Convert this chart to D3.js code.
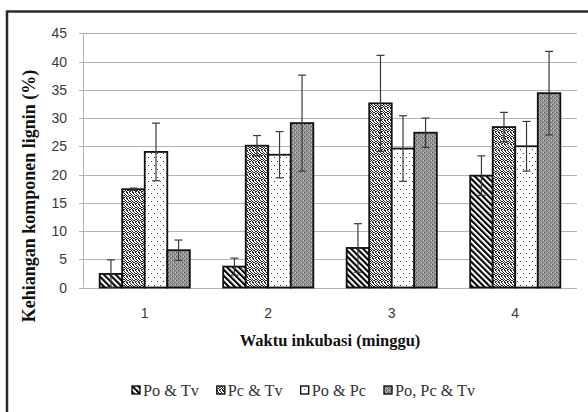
<!DOCTYPE html>
<html><head><meta charset="utf-8">
<script src="https://cdn.jsdelivr.net/npm/d3@7"></script>
<style>body{margin:0;background:#fff}svg{display:block}</style>
</head><body>
<script>
// ---- data ----
const categories = ["1", "2", "3", "4"];
const seriesNames = ["Po & Tv", "Pc & Tv", "Po & Pc", "Po, Pc & Tv"];
const poTv     = [2.4, 3.7, 7.0, 19.8];
const poTvErr  = [2.5, 1.5, 4.3, 3.5];
const pcTv     = [17.4, 25.1, 32.6, 28.4];
const pcTvErr  = [0.2, 1.8, 8.5, 2.6];
const poPc     = [24.0, 23.5, 24.6, 25.0];
const poPcErr  = [5.1, 4.1, 5.8, 4.4];
const poPcTv   = [6.6, 29.1, 27.4, 34.4];
const poPcTvErr= [1.8, 8.5, 2.6, 7.4];
const yTicks = [0, 5, 10, 15, 20, 25, 30, 35, 40, 45];
const yTitle = "Kehiangan komponen lignin (%)";
const xTitle = "Waktu inkubasi (minggu)";

const seriesValues = [poTv, pcTv, poPc, poPcTv];
const seriesErrors = [poTvErr, pcTvErr, poPcErr, poPcTvErr];
const patternIds = ["pStripe", "pConfetti", "pDots", "pGray"];

const W = 588, H = 412;
const svg = d3.select("body").append("svg").attr("width", W).attr("height", H);
const defs = svg.append("defs");

// stripe pattern
const ps = defs.append("pattern").attr("id", "pStripe").attr("patternUnits", "userSpaceOnUse")
  .attr("width", 4.2).attr("height", 4.2).attr("patternTransform", "rotate(-45)");
ps.append("rect").attr("width", 4.2).attr("height", 4.2).attr("fill", "#fff");
ps.append("rect").attr("width", 2.1).attr("height", 4.2).attr("fill", "#000");

// confetti pattern (Pc & Tv)
const pc = defs.append("pattern").attr("id", "pConfetti").attr("patternUnits", "userSpaceOnUse")
  .attr("width", 6).attr("height", 6);
pc.append("rect").attr("width", 6).attr("height", 6).attr("fill", "#fff");
[[0,0],[1,0],[3,0],[4,1],[1,1],[2,2],[5,2],[0,3],[3,3],[4,3],[1,4],[2,4],[5,4],[0,5],[3,5],[4,5]].forEach(([x,y]) =>
  pc.append("rect").attr("x", x).attr("y", y).attr("width", 1).attr("height", 1).attr("fill", "#222"));

// sparse dots (Po & Pc)
const pd = defs.append("pattern").attr("id", "pDots").attr("patternUnits", "userSpaceOnUse")
  .attr("width", 6).attr("height", 8);
pd.append("rect").attr("width", 6).attr("height", 8).attr("fill", "#fff");
[[1,1],[4,5]].forEach(([x,y]) =>
  pd.append("rect").attr("x", x).attr("y", y).attr("width", 1).attr("height", 1).attr("fill", "#444"));

// gray texture (Po, Pc & Tv)
const pg = defs.append("pattern").attr("id", "pGray").attr("patternUnits", "userSpaceOnUse")
  .attr("width", 4).attr("height", 4);
pg.append("rect").attr("width", 4).attr("height", 4).attr("fill", "#959595");
[[0,0],[2,2],[3,0],[1,2]].forEach(([x,y],i) =>
  pg.append("rect").attr("x", x).attr("y", y).attr("width", 1).attr("height", 1).attr("fill", i < 2 ? "#555" : "#c4c4c4"));

// frame
svg.append("rect").attr("x", 7).attr("y", 11.5).attr("width", 620).attr("height", 420)
  .attr("fill", "none").attr("stroke", "#2b2b2b").attr("stroke-width", 2.5);

// scales
const plotL = 83, plotR = 577, plotT = 33.3, plotB = 287.5;
const x = d3.scaleBand().domain(categories).range([plotL, plotR]).paddingInner(0.27).paddingOuter(0.135);
const xs = d3.scaleBand().domain(seriesNames).range([0, x.bandwidth()]).padding(0);
const y = d3.scaleLinear().domain([0, 45]).range([plotB, plotT]);

// gridlines
svg.append("g").selectAll("line").data(yTicks).join("line")
  .attr("x1", plotL - 4).attr("x2", plotR)
  .attr("y1", d => Math.round(y(d)) + 0.5).attr("y2", d => Math.round(y(d)) + 0.5)
  .attr("stroke", "#b4b4b4").attr("stroke-width", 1.2);
// y axis line
svg.append("line").attr("x1", plotL + 0.5).attr("x2", plotL + 0.5)
  .attr("y1", y(45)).attr("y2", y(0)).attr("stroke", "#b4b4b4").attr("stroke-width", 1);

// y tick labels
svg.append("g").selectAll("text").data(yTicks).join("text")
  .attr("x", 67).attr("y", d => y(d)).attr("dy", "0.36em")
  .attr("text-anchor", "end").attr("font-family", "Liberation Sans, Arial, sans-serif")
  .attr("font-size", 14).attr("fill", "#3a3a3a").text(d => d);

// bars
const rows = [];
seriesNames.forEach((s, si) => categories.forEach((c, ci) =>
  rows.push({ s, si, c, v: seriesValues[si][ci], e: seriesErrors[si][ci] })));

svg.append("g").selectAll("rect").data(rows).join("rect")
  .attr("x", d => x(d.c) + xs(d.s))
  .attr("y", d => y(d.v))
  .attr("width", xs.bandwidth())
  .attr("height", d => y(0) - y(d.v))
  .attr("fill", d => `url(#${patternIds[d.si]})`)
  .attr("stroke", "#111").attr("stroke-width", 1.8);

// error bars
const eg = svg.append("g").attr("stroke", "#3a3a3a").attr("stroke-width", 1.2);
rows.forEach(d => {
  const cx = x(d.c) + xs(d.s) + xs.bandwidth() / 2;
  const y1 = y(d.v + d.e), y2 = y(Math.max(0, d.v - d.e));
  eg.append("line").attr("x1", cx).attr("x2", cx).attr("y1", y1).attr("y2", y2);
  eg.append("line").attr("x1", cx - 4).attr("x2", cx + 4).attr("y1", y1).attr("y2", y1);
  eg.append("line").attr("x1", cx - 4).attr("x2", cx + 4).attr("y1", y2).attr("y2", y2);
});

// category labels
svg.append("g").selectAll("text").data(categories).join("text")
  .attr("x", d => x(d) + x.bandwidth() / 2).attr("y", 313).attr("dy", "0.36em")
  .attr("text-anchor", "middle").attr("font-family", "Liberation Sans, Arial, sans-serif")
  .attr("font-size", 14).attr("fill", "#3a3a3a").text(d => d);

// axis titles
svg.append("text").attr("x", (plotL + plotR) / 2).attr("y", 340).attr("dy", "0.35em")
  .attr("text-anchor", "middle").attr("font-family", "Liberation Serif, Times New Roman, serif")
  .attr("font-weight", "bold").attr("font-size", 16.5).attr("fill", "#111").text(xTitle);

svg.append("text").attr("transform", "translate(29,196) rotate(-90)").attr("dy", "0.35em")
  .attr("text-anchor", "middle").attr("font-family", "Liberation Serif, Times New Roman, serif")
  .attr("font-weight", "bold").attr("font-size", 18).attr("fill", "#111").text(yTitle);

// legend
const lg = svg.append("g");
let lx = 132;
seriesNames.forEach((s, i) => {
  lg.append("rect").attr("x", lx).attr("y", 386).attr("width", 8).attr("height", 8)
    .attr("fill", `url(#${patternIds[i]})`).attr("stroke", "#111").attr("stroke-width", 1.4);
  const t = lg.append("text").attr("x", lx + 11).attr("y", 390).attr("dy", "0.35em")
    .attr("font-family", "Liberation Serif, Times New Roman, serif")
    .attr("font-size", 16.3).attr("fill", "#333").text(s);
  lx += 11 + t.node().getComputedTextLength() + 18;
});
</script>
</body></html>
